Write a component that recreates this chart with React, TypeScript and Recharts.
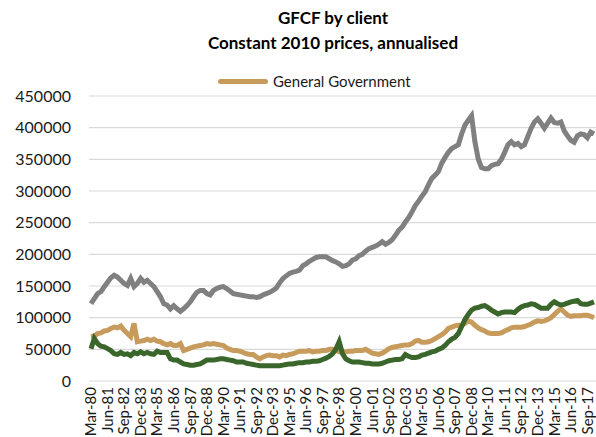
import { CartesianGrid, Legend, Line, LineChart, XAxis, YAxis } from 'recharts'

// quarterly categories Mar-80 .. Mar-18
const MONTHS = ['Mar', 'Jun', 'Sep', 'Dec']
const QUARTERS: string[] = []
for (let i = 0; i < 153; i++) {
  const yr = (80 + Math.floor(i / 4)) % 100
  QUARTERS.push(`${MONTHS[i % 4]}-${String(yr).padStart(2, '0')}`)
}

// grey series
const PRIVATE = [
  122000, 130000, 138000, 141000, 149000, 156000, 163000, 167000, 164000, 159000,
  154000, 151000, 162000, 149000, 154000, 162000, 156000, 159000, 154000, 149000,
  141000, 133000, 122000, 120000, 114000, 119000, 114000, 110000, 114000, 119000,
  125000, 133000, 140000, 143000, 143000, 138000, 136000, 143000, 146000, 148000,
  149000, 146000, 142000, 138000, 137000, 136000, 135000, 134000, 133000, 133000,
  132000, 133000, 136000, 138000, 140000, 143000, 147000, 155000, 162000, 166000,
  170000, 172000, 173000, 175000, 182000, 185000, 189000, 192000, 195000, 196000,
  196000, 196000, 193000, 190000, 188000, 185000, 181000, 182000, 185000, 191000,
  193000, 198000, 200000, 205000, 209000, 211000, 213000, 216000, 220000, 216000,
  219000, 223000, 230000, 238000, 243000, 251000, 258000, 267000, 277000, 284000,
  292000, 299000, 310000, 320000, 325000, 331000, 344000, 353000, 361000, 367000,
  370000, 373000, 390000, 404000, 412000, 419000, 378000, 351000, 337000, 335000,
  335000, 340000, 342000, 343000, 350000, 361000, 373000, 378000, 373000, 375000,
  370000, 373000, 386000, 399000, 409000, 414000, 407000, 399000, 407000, 415000,
  408000, 407000, 409000, 395000, 387000, 380000, 377000, 387000, 390000, 389000,
  384000, 393000, 390000,
]

// green series
const PUBLIC_CORPS = [
  51000, 67000, 59000, 55000, 54000, 51000, 48000, 43000, 42000, 45000,
  42000, 43000, 40000, 45000, 43000, 46000, 43000, 45000, 43000, 42000,
  47000, 45000, 45000, 45000, 35000, 33000, 33000, 30000, 27000, 26000,
  25000, 25000, 26000, 27000, 30000, 33000, 33000, 33000, 34000, 35000,
  35000, 34000, 33000, 32000, 30000, 30000, 30000, 28000, 27000, 26000,
  25000, 24000, 24000, 24000, 24000, 24000, 24000, 24000, 25000, 26000,
  27000, 27000, 28000, 29000, 29000, 30000, 30000, 31000, 31000, 32000,
  34000, 36000, 39000, 43000, 50000, 62000, 43000, 35000, 32000, 30000,
  30000, 30000, 29000, 28000, 28000, 27000, 27000, 27000, 28000, 30000,
  32000, 33000, 34000, 34000, 35000, 42000, 39000, 37000, 37000, 38000,
  41000, 42000, 44000, 46000, 47000, 50000, 52000, 56000, 62000, 66000,
  69000, 75000, 86000, 97000, 105000, 112000, 115000, 116000, 118000, 119000,
  116000, 112000, 109000, 106000, 108000, 109000, 109000, 109000, 108000, 113000,
  117000, 119000, 120000, 122000, 121000, 118000, 115000, 115000, 115000, 121000,
  125000, 122000, 120000, 121000, 123000, 125000, 126000, 127000, 122000, 121000,
  121000, 123000, 125000,
]

// tan series
const GENERAL_GOV = [
  70000, 71000, 75000, 76000, 79000, 80000, 83000, 85000, 84000, 87000,
  80000, 75000, 70000, 91000, 62000, 63000, 64000, 66000, 64000, 66000,
  63000, 62000, 59000, 57000, 59000, 56000, 56000, 59000, 48000, 50000,
  52000, 54000, 55000, 56000, 57000, 59000, 58000, 59000, 58000, 57000,
  56000, 52000, 50000, 48000, 48000, 47000, 45000, 43000, 42000, 42000,
  38000, 35000, 38000, 40000, 41000, 40000, 40000, 38000, 41000, 40000,
  42000, 43000, 45000, 47000, 47000, 47000, 48000, 46000, 47000, 47000,
  48000, 48000, 50000, 50000, 48000, 46000, 46000, 46000, 47000, 47000,
  48000, 48000, 48000, 50000, 47000, 44000, 43000, 42000, 44000, 47000,
  51000, 53000, 54000, 55000, 56000, 57000, 57000, 59000, 63000, 64000,
  61000, 61000, 62000, 64000, 67000, 70000, 73000, 77000, 83000, 85000,
  87000, 88000, 88000, 91000, 95000, 93000, 88000, 84000, 81000, 79000,
  76000, 75000, 75000, 75000, 76000, 79000, 81000, 84000, 85000, 85000,
  85000, 86000, 88000, 90000, 93000, 95000, 94000, 95000, 97000, 100000,
  105000, 110000, 114000, 109000, 104000, 102000, 103000, 103000, 103000, 104000,
  104000, 102000, 100000,
]

const Y_TICKS = [0, 50000, 100000, 150000, 200000, 250000, 300000, 350000, 400000, 450000]

const data = QUARTERS.map((q, i) => ({
  quarter: q,
  privateSector: PRIVATE[i],
  publicCorps: PUBLIC_CORPS[i],
  generalGov: GENERAL_GOV[i],
}))

const FONT = 'Lato, "Noto Sans", sans-serif'
const INK = '#1a1a1a'

function QuarterTick({ x, y, payload }: any) {
  return (
    <text
      x={x}
      y={y}
      dy="0.35em"
      transform={`rotate(-90, ${x}, ${y})`}
      textAnchor="end"
      fontSize={15}
      fontFamily={FONT}
      fill={INK}
    >
      {payload.value}
    </text>
  )
}

function LegendContent({ payload }: any) {
  const items = (payload || []).filter((p: any) => p.type !== 'none')
  return (
    <div style={{ display: 'flex', alignItems: 'center', fontFamily: FONT, fontSize: 15, color: INK }}>
      {items.map((p: any) => (
        <div key={p.value} style={{ display: 'flex', alignItems: 'center' }}>
          <span style={{ display: 'inline-block', width: 50, height: 5, borderRadius: 3, background: p.color, marginRight: 5 }} />
          <span>{p.value}</span>
        </div>
      ))}
    </div>
  )
}

export default function App() {
  return (
    <div style={{ position: 'relative', width: 596, height: 437, background: '#fff' }}>
      <style>{'body{margin:0}'}</style>
      <div style={{ position: 'absolute', top: 5, left: 0, width: 666, textAlign: 'center', fontFamily: FONT, fontWeight: 700, fontSize: 17, lineHeight: '25px', color: '#000' }}>
        <div>GFCF by client</div>
        <div>Constant 2010 prices, annualised</div>
      </div>
      <LineChart width={596} height={437} data={data} margin={{ top: 96, right: 0, bottom: 0, left: 0 }}>
        <CartesianGrid vertical={false} stroke="#d9d9d9" strokeWidth={1.2} />
        <XAxis
          dataKey="quarter"
          interval={4}
          height={56}
          tickSize={0}
          tickMargin={6}
          axisLine={false}
          tickLine={false}
          padding={{ left: 2, right: 2 }}
          tick={<QuarterTick />}
        />
        <YAxis
          width={89}
          domain={[0, 450000]}
          ticks={Y_TICKS}
          tickSize={0}
          tickMargin={18}
          axisLine={false}
          tickLine={false}
          tick={{ fontSize: 16, fontFamily: FONT, fill: INK }}
        />
        <Legend
          verticalAlign="middle"
          align="center"
          wrapperStyle={{ top: 72, left: 218, width: 'auto' }}
          content={<LegendContent />}
        />
        <Line name="Private" dataKey="privateSector" stroke="#808080" strokeWidth={5} dot={false} legendType="none" isAnimationActive={false} />
        <Line name="General Government" dataKey="generalGov" stroke="#c79b5b" strokeWidth={5} dot={false} isAnimationActive={false} />
        <Line name="Public corporations" dataKey="publicCorps" stroke="#3a662b" strokeWidth={5} dot={false} legendType="none" isAnimationActive={false} />
      </LineChart>
    </div>
  )
}
